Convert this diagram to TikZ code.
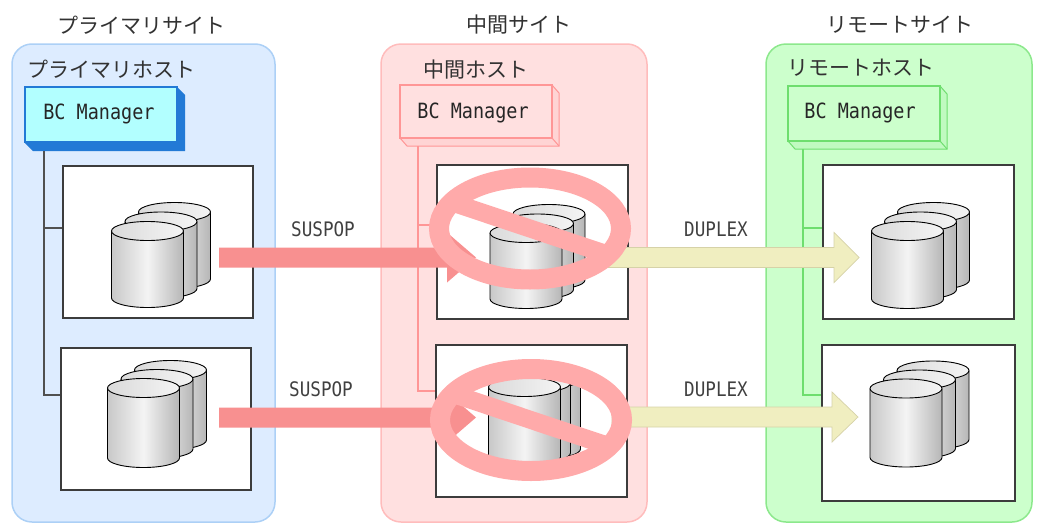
\documentclass[tikz,border=0pt]{standalone}
\usepackage{fontspec}
\newfontfamily\jpfont{Noto Sans CJK JP}
\newfontfamily\condfont[FakeStretch=0.88]{DejaVu Sans Mono}
\usetikzlibrary{calc}

% palette
\definecolor{priFill}{RGB}{221,236,255}
\definecolor{priEdge}{RGB}{172,208,246}
\definecolor{midFill}{RGB}{255,224,224}
\definecolor{midEdge}{RGB}{255,188,188}
\definecolor{remFill}{RGB}{204,255,204}
\definecolor{remEdge}{RGB}{140,232,140}
\definecolor{bcPfront}{RGB}{178,255,255}
\definecolor{bcPedge}{RGB}{34,122,214}
\definecolor{bcMfront}{RGB}{255,224,224}
\definecolor{bcMedge}{RGB}{255,150,150}
\definecolor{bcMside}{RGB}{255,212,212}
\definecolor{bcRfront}{RGB}{204,255,204}
\definecolor{bcRedge}{RGB}{110,222,110}
\definecolor{bcRside}{RGB}{192,250,192}
\definecolor{suspopRed}{RGB}{248,144,144}
\definecolor{duplexFill}{RGB}{240,238,192}
\definecolor{duplexEdge}{RGB}{214,210,168}
\definecolor{banPink}{RGB}{255,170,170}
\definecolor{textGray}{RGB}{50,50,50}
\definecolor{boxEdge}{RGB}{60,60,60}
\definecolor{treeGray}{RGB}{80,80,80}
\definecolor{cylL}{RGB}{200,200,200}
\definecolor{cylM}{RGB}{244,244,244}
\definecolor{cylR}{RGB}{182,182,182}
\definecolor{cylTopL}{RGB}{218,218,218}
\definecolor{cylTopR}{RGB}{244,244,244}

\tikzset{
  sitepanel/.style={rounded corners=20pt, line width=1.5pt},
  sitetitle/.style={font=\jpfont\fontsize{21}{25}\selectfont, text=textGray, inner sep=0pt},
  hosttitle/.style={font=\jpfont\fontsize{21}{25}\selectfont, text=textGray, inner sep=0pt, anchor=west},
  bcfront/.style={anchor=north west, inner sep=0pt, outer sep=0pt, line width=1.3pt,
    minimum width=152pt, minimum height=55pt},
  bclabel/.style={font=\condfont\fontsize{21}{24}\selectfont, text=black!85, inner sep=0pt, anchor=base},
  arrowlabel/.style={font=\condfont\fontsize{20}{24}\selectfont, text=black!75, inner sep=0pt, anchor=base},
  storebox/.style={anchor=north west, inner sep=0pt, outer sep=0pt, draw=boxEdge,
    fill=white, line width=1.5pt},
  treeP/.style={draw=treeGray, line width=1.4pt},
  treeM/.style={draw=bcMedge, line width=1.2pt},
  treeR/.style={draw=bcRedge, line width=1.2pt},
  drumbody/.style={left color=cylL, right color=cylR, middle color=cylM, draw=black, line width=0.9pt},
  drumtop/.style={left color=cylTopL, right color=cylTopR, draw=black, line width=0.9pt},
  suspoparrow/.style={fill=suspopRed},
  duplexarrow/.style={fill=duplexFill, draw=duplexEdge, line width=0.7pt},
  banring/.style={draw=banPink, line width=20pt},
  banslash/.style={draw=banPink, line width=18pt},
}

% one disk drum: top centre (#1,#2), body height #3
\newcommand\drum[3]{%
  \begin{scope}[shift={(#1,#2)}]
    \path[drumbody] (-36,0) -- (-36,#3)
      arc[start angle=180, end angle=0, x radius=36, y radius=9.5] -- (36,0);
    \path[drumtop] (0,0) ellipse[x radius=36, y radius=9.5];
  \end{scope}}

% three drums, rear ones shifted by (#4,#5) each
\newcommand\drumstack[5]{%
  \pgfmathsetmacro\dsxa{#1+2*#4}\pgfmathsetmacro\dsya{#2+2*#5}%
  \pgfmathsetmacro\dsxb{#1+#4}\pgfmathsetmacro\dsyb{#2+#5}%
  \drum{\dsxa}{\dsya}{#3}\drum{\dsxb}{\dsyb}{#3}\drum{#1}{#2}{#3}}

% block arrow from tail coordinate #2 to tip coordinate #3, head length #4
\newcommand\blockarrow[4]{%
  \path[#1] ($(#2)+(0,-10)$) -- ($(#3)+(-#4,-10)$) -- ($(#3)+(-#4,-25)$) -- (#3)
    -- ($(#3)+(-#4,25)$) -- ($(#3)+(-#4,10)$) -- ($(#2)+(0,10)$) -- cycle;}

% prohibition sign centred on coordinate #1
\newcommand\bansign[1]{%
  \begin{scope}
    \clip (#1) ellipse[x radius=91, y radius=51];
    \draw[banslash] ($(#1)+(-100,-33.5)$) -- ($(#1)+(100,33.5)$);
  \end{scope}
  \draw[banring] (#1) ellipse[x radius=91, y radius=51];}

\begin{document}
\begin{tikzpicture}[x=1pt, y=-1pt]
\useasboundingbox (0,0) rectangle (1041,525);

% ---- site panels
\draw[sitepanel, fill=priFill, draw=priEdge] (12,44) rectangle (275,522);
\draw[sitepanel, fill=midFill, draw=midEdge] (381,44) rectangle (647,522);
\draw[sitepanel, fill=remFill, draw=remEdge] (766,44) rectangle (1032,522);

% ---- titles
\node[sitetitle] (tPri) at (141,25) {プライマリサイト};
\node[sitetitle] (tMid) at (519,25) {中間サイト};
\node[sitetitle] (tRem) at (900,25) {リモートサイト};
\node[hosttitle] (hPri) at (27,69) {プライマリホスト};
\node[hosttitle] (hMid) at (423,70) {中間ホスト};
\node[hosttitle] (hRem) at (787,68) {リモートホスト};

% ---- BC Manager blocks
\fill[bcPedge] (177,87) -- (185,95) -- (185,151) -- (33,151) -- (25,143) -- cycle;
\node[bcfront, fill=bcPfront, draw=bcPedge] (bcP) at (25,87) {};
\node[bclabel] (bcPtext) at (99,119) {BC Manager};

\draw[fill=bcMside, draw=bcMedge, line width=1pt]
  (552,85) -- (559,93) -- (559,146) -- (407,146) -- (400,138) -- cycle;
\node[bcfront, fill=bcMfront, draw=bcMedge, minimum height=53pt] (bcM) at (400,85) {};
\draw[bcMedge, line width=1pt] (bcM.south east) -- (559,146);
\node[bclabel] (bcMtext) at (473,118) {BC Manager};

\draw[fill=bcRside, draw=bcRedge, line width=1pt]
  (940,86) -- (947,94) -- (947,149) -- (795,149) -- (788,141) -- cycle;
\node[bcfront, fill=bcRfront, draw=bcRedge] (bcR) at (788,86) {};
\draw[bcRedge, line width=1pt] (bcR.south east) -- (947,149);
\node[bclabel] (bcRtext) at (860,118) {BC Manager};

% ---- management links to the storage boxes
\coordinate (pRoot) at (44,151);
\coordinate (pTap1) at (63,228);
\coordinate (pTap2) at (61,395);
\draw[treeP] (pRoot) |- (pTap2);
\draw[treeP] (44,228) -- (pTap1);

\coordinate (mRoot) at (418,146);
\coordinate (mTap1) at (437,225);
\coordinate (mTap2) at (436,391);
\draw[treeM] (mRoot) |- (mTap2);
\draw[treeM] (418,225) -- (mTap1);

\coordinate (rRoot) at (803,149);
\coordinate (rTap1) at (823,228);
\coordinate (rTap2) at (822,395);
\draw[treeR] (rRoot) |- (rTap2);
\draw[treeR] (803,228) -- (rTap1);

% ---- storage boxes
\node[storebox, minimum width=190pt, minimum height=152pt] (stP1) at (63,166) {};
\node[storebox, minimum width=190pt, minimum height=142pt] (stP2) at (61,348) {};
\node[storebox, minimum width=191pt, minimum height=154pt] (stM1) at (437,165) {};
\node[storebox, minimum width=191pt, minimum height=152pt] (stM2) at (436,345) {};
\node[storebox, minimum width=191pt, minimum height=154pt] (stR1) at (823,165) {};
\node[storebox, minimum width=193pt, minimum height=156pt] (stR2) at (822,345) {};

% ---- disk drums
\drumstack{147.5}{231}{67}{13.5}{-9.5}
\drumstack{143.5}{388}{70}{13.5}{-9}
\drumstack{526}{233}{66}{11.5}{-9.5}
\drumstack{524.5}{387}{70}{10}{-4}
\drumstack{907.5}{231}{68}{13}{-9.5}
\drumstack{906}{388.5}{69}{13.5}{-9}

% ---- copy direction arrows
\coordinate (sus1a) at (219,257.5);
\coordinate (sus1b) at (476,257.5);
\coordinate (sus2a) at (219,417.5);
\coordinate (sus2b) at (476,417.5);
\blockarrow{suspoparrow}{sus1a}{sus1b}{29}
\blockarrow{suspoparrow}{sus2a}{sus2b}{29}

\coordinate (dup1a) at (600,257.5);
\coordinate (dup1b) at (859,257.5);
\coordinate (dup2a) at (612,417);
\coordinate (dup2b) at (858,417);
\blockarrow{duplexarrow}{dup1a}{dup1b}{25}
\blockarrow{duplexarrow}{dup2a}{dup2b}{26}

% ---- suspended pairs
\coordinate (ban1) at (530,228.5);
\coordinate (ban2) at (531,420);
\bansign{ban1}
\bansign{ban2}

% ---- arrow labels
\node[arrowlabel] (lSus1) at (323,236) {SUSPOP};
\node[arrowlabel] (lSus2) at (321,396) {SUSPOP};
\node[arrowlabel] (lDup1) at (716,236) {DUPLEX};
\node[arrowlabel] (lDup2) at (716,396) {DUPLEX};
\end{tikzpicture}
\end{document}
